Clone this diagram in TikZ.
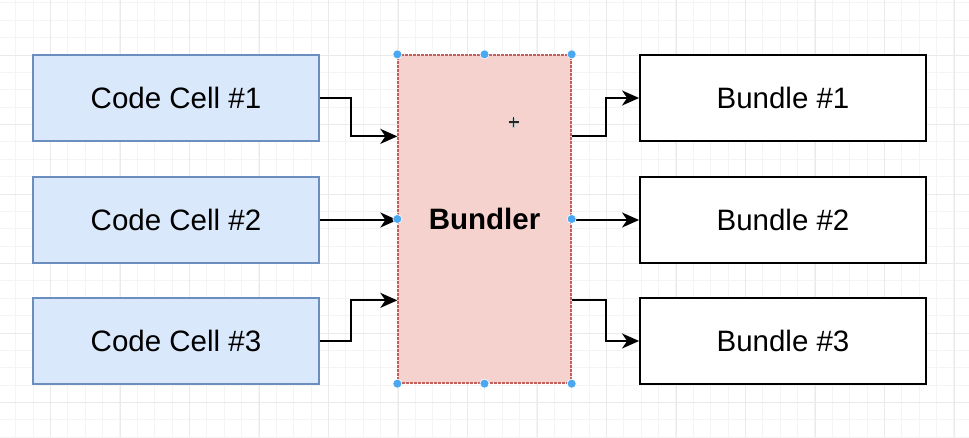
\documentclass[tikz,border=0pt]{standalone}
\usepackage{fontspec}
\setmainfont{Liberation Sans}
\usetikzlibrary{arrows.meta}
\definecolor{cellfill}{HTML}{DAE8FC}
\definecolor{celldraw}{HTML}{6C8EBF}
\definecolor{bfill}{HTML}{F6D2CE}
\definecolor{bdraw}{HTML}{C0605C}
\definecolor{handle}{HTML}{4BA8F0}
\definecolor{gridminor}{HTML}{F4F4F4}
\definecolor{gridmajor}{HTML}{EAEAEA}
\tikzset{
  cellbox/.style={draw=celldraw, fill=cellfill, line width=1.5pt, minimum width=286pt, minimum height=86pt, inner sep=0pt, font=\fontsize{29.5}{35}\selectfont},
  bundlebox/.style={draw=black, fill=white, line width=1.8pt, minimum width=286pt, minimum height=86pt, inner sep=0pt, font=\fontsize{29.5}{35}\selectfont},
  bundlerbox/.style={draw=bdraw, fill=bfill, line width=1.3pt, dash pattern=on 3pt off 1pt, minimum width=173pt, minimum height=328pt, inner sep=0pt, font=\fontsize{29.5}{35}\selectfont\bfseries},
  arr/.style={draw=black, line width=1.9pt, -{Stealth[length=17pt, width=15pt, inset=5pt]}},
  hdot/.style={circle, fill=handle, draw=white, line width=0.6pt, minimum size=9pt, inner sep=0pt},
  minorline/.style={draw=gridminor, line width=0.8pt},
  majorline/.style={draw=gridmajor, line width=0.9pt}
}
\begin{document}
\begin{tikzpicture}[x=1pt, y=-1pt]
\useasboundingbox (0,0) rectangle (969,437);
\fill[white] (0,0) rectangle (969,437);
% grid
\foreach \i in {-2,...,54} { \draw[minorline] ({33+17.375*\i},0) -- ({33+17.375*\i},437); }
\foreach \i in {-4,...,22} { \draw[minorline] (0,{55+17.375*\i}) -- (969,{55+17.375*\i}); }
\foreach \i in {-1,...,13} { \draw[majorline] ({50.7+69.5*\i},0) -- ({50.7+69.5*\i},437); }
\foreach \i in {-1,...,5} { \draw[majorline] (0,{55+69.5*\i}) -- (969,{55+69.5*\i}); }
% nodes
\node[cellbox] (c1) at (176,98) {Code Cell \#1};
\node[cellbox] (c2) at (176,220) {Code Cell \#2};
\node[cellbox] (c3) at (176,341) {Code Cell \#3};
\node[bundlerbox] (bund) at (484.5,219) {Bundler};
\node[bundlebox] (b1) at (783,98) {Bundle \#1};
\node[bundlebox] (b2) at (783,220) {Bundle \#2};
\node[bundlebox] (b3) at (783,341) {Bundle \#3};
% connector end points on the bundler
\path (bund.north west) ++(0,82) coordinate (in1);
\path (bund.north west) ++(0,246) coordinate (in3);
\path (bund.north east) ++(0,82) coordinate (out1);
\path (bund.north east) ++(0,246) coordinate (out3);
% connectors
\draw[arr] (c1.east) -- ++(31,0) |- (in1);
\draw[arr] (c2.east) -- (c2.east -| bund.west);
\draw[arr] (c3.east) -- ++(31,0) |- (in3);
\draw[arr] (out1) -- ++(34,0) |- (b1.west);
\draw[arr] (b2.west -| bund.east) -- (b2.west);
\draw[arr] (out3) -- ++(34,0) |- (b3.west);
% selection handles
\foreach \a in {north west, north, north east, west, east, south west, south, south east} {
  \node[hdot] at (bund.\a) {};
}
% move cursor
\coordinate (cur) at (513.5,122);
\draw[gray!45, line width=3pt] ([shift={(-5,0.7)}]cur) -- ([shift={(5,0.7)}]cur) ([shift={(0,-4.3)}]cur) -- ([shift={(0,5.7)}]cur);
\draw[black!85, line width=1.5pt] ([shift={(-5,0)}]cur) -- ([shift={(5,0)}]cur) ([shift={(0,-5)}]cur) -- ([shift={(0,5)}]cur);
\end{tikzpicture}
\end{document}
